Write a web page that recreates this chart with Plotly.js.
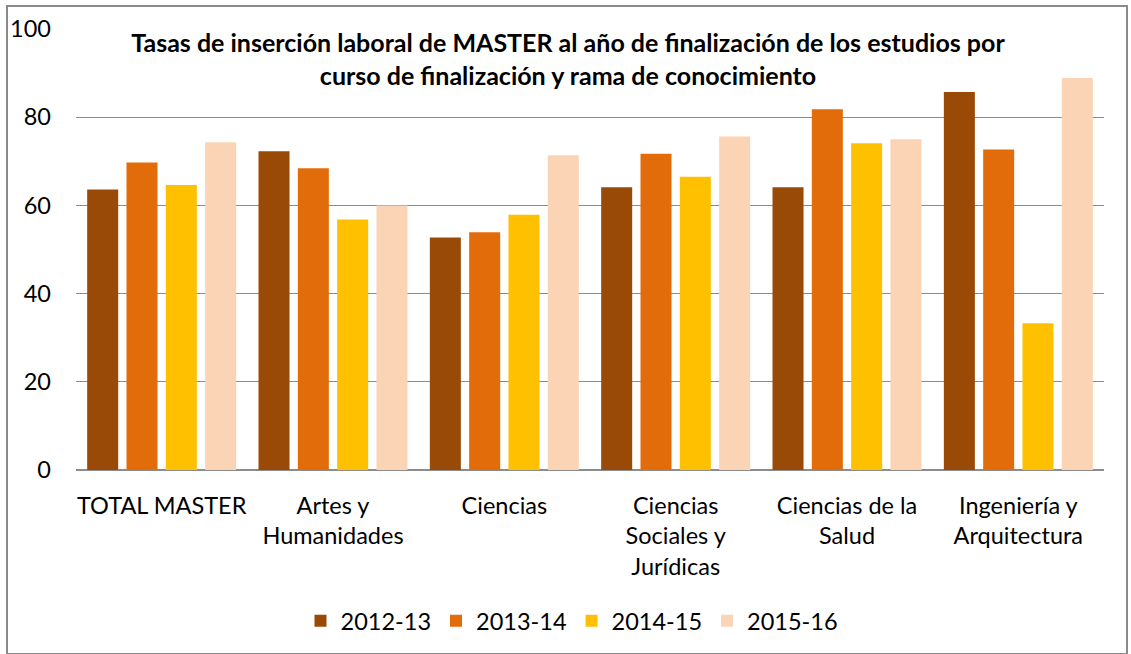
<!DOCTYPE html>
<html><head><meta charset="utf-8">
<script src="https://cdn.plot.ly/plotly-3.0.1.min.js"></script>
<style>
html,body{margin:0;padding:0;background:#fff;}
#chart{position:absolute;left:0;top:0;width:1131px;height:654px;}
#frame{position:absolute;left:6px;top:5px;width:1122px;height:650px;border:2px solid #8a8a8a;pointer-events:none;box-sizing:border-box;}
</style></head>
<body>
<div id="chart"></div>
<div id="frame"></div>
<script>
const categories = ["TOTAL MASTER", "Artes y<br>Humanidades", "Ciencias", "Ciencias<br>Sociales y<br>Jurídicas", "Ciencias de la<br>Salud", "Ingeniería y<br>Arquitectura"];
const seriesNames = ["2012-13", "2013-14", "2014-15", "2015-16"];
const v2012 = [63.6, 72.3, 52.7, 64.1, 64.1, 85.7];
const v2013 = [69.7, 68.4, 53.9, 71.7, 81.8, 72.7];
const v2014 = [64.6, 56.8, 57.9, 66.5, 74.1, 33.3];
const v2015 = [74.3, 60.0, 71.4, 75.6, 75.0, 88.9];
const colors = ["#9A4A07", "#E36C0A", "#FFC000", "#FBD4B5"];
const yTicks = [0, 20, 40, 60, 80, 100];

const values = [v2012, v2013, v2014, v2015];
const font = "Lato, 'Liberation Sans', sans-serif";
const traces = values.map((v, i) => ({
  type: "bar",
  name: seriesNames[i],
  x: categories,
  y: v,
  marker: {color: colors[i], line: {width: 0}},
  hoverinfo: "x+y+name"
}));

const layout = {
  width: 1131, height: 654,
  margin: {l: 76, r: 27, t: 29, b: 184},
  paper_bgcolor: "#ffffff",
  plot_bgcolor: "#ffffff",
  font: {family: font, size: 23.5, color: "#000"},
  title: {
    text: "<b>Tasas de inserción laboral de MASTER al año de finalización de los estudios por<br>curso de finalización y rama de conocimiento</b>",
    font: {family: font, size: 25, color: "#000"},
    xref: "container", x: 568 / 1131, xanchor: "center",
    yref: "container", y: 1 - 52 / 654, yanchor: "top"
  },
  barmode: "group",
  bargap: 0.082,
  bargroupgap: 0.211,
  xaxis: {
    type: "category",
    showgrid: false,
    showline: false,
    ticks: "",
    tickfont: {family: font, size: 23.5, color: "#000"},
    ticklabelstandoff: 19,
    zeroline: false
  },
  yaxis: {
    range: [0, 100],
    tickvals: yTicks,
    ticktext: yTicks.map(String),
    showgrid: true,
    gridcolor: "#8c8c8c",
    gridwidth: 1.3,
    zeroline: true,
    zerolinecolor: "#8c8c8c",
    zerolinewidth: 1.6,
    showline: false,
    ticks: "",
    ticklabelstandoff: 24,
    tickfont: {family: font, size: 23.5, color: "#000"}
  },
  showlegend: true,
  legend: {
    orientation: "h",
    xref: "container", x: 572 / 1131, xanchor: "center",
    yref: "container", y: 1 - 621 / 654, yanchor: "middle",
    font: {family: font, size: 23.5, color: "#000"},
    itemwidth: 30,
    traceorder: "normal",
    bgcolor: "rgba(0,0,0,0)"
  }
};

Plotly.newPlot("chart", traces, layout, {displayModeBar: false, staticPlot: true});
</script>
</body></html>
